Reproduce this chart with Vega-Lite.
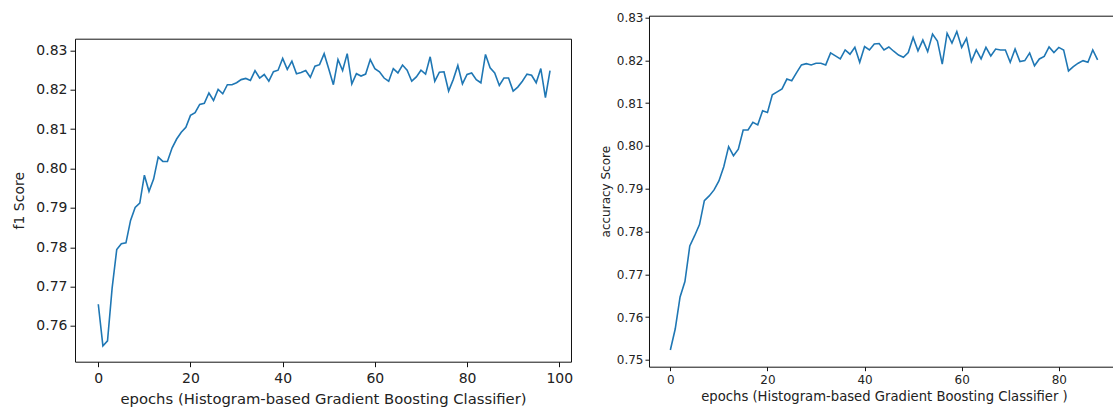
{
  "$schema": "https://vega.github.io/schema/vega-lite/v6.json",
  "padding": {"left": 12, "top": 10.7, "right": 0, "bottom": 0},
  "background": "white",
  "spacing": 24,
  "config": {
    "font": "DejaVu Sans",
    "view": {"stroke": "#111", "strokeWidth": 1},
    "axis": {"grid": false, "domain": false, "tickColor": "#111", "labelColor": "#222", "titleColor": "#222", "titleFontWeight": "normal"}
  },
  "datasets": {
    "f1": [
      {"epoch": 0, "score": 0.7655}, {"epoch": 1, "score": 0.7549}, {"epoch": 2, "score": 0.7562}, {"epoch": 3, "score": 0.7696},
      {"epoch": 4, "score": 0.7794}, {"epoch": 5, "score": 0.7809}, {"epoch": 6, "score": 0.7811}, {"epoch": 7, "score": 0.7868},
      {"epoch": 8, "score": 0.7901}, {"epoch": 9, "score": 0.7912}, {"epoch": 10, "score": 0.7983}, {"epoch": 11, "score": 0.7942},
      {"epoch": 12, "score": 0.7973}, {"epoch": 13, "score": 0.8029}, {"epoch": 14, "score": 0.8018}, {"epoch": 15, "score": 0.8018},
      {"epoch": 16, "score": 0.8052}, {"epoch": 17, "score": 0.8075}, {"epoch": 18, "score": 0.8092}, {"epoch": 19, "score": 0.8105},
      {"epoch": 20, "score": 0.8135}, {"epoch": 21, "score": 0.8142}, {"epoch": 22, "score": 0.8163}, {"epoch": 23, "score": 0.8166},
      {"epoch": 24, "score": 0.8192}, {"epoch": 25, "score": 0.8173}, {"epoch": 26, "score": 0.8201}, {"epoch": 27, "score": 0.819},
      {"epoch": 28, "score": 0.8213}, {"epoch": 29, "score": 0.8213}, {"epoch": 30, "score": 0.8218}, {"epoch": 31, "score": 0.8226},
      {"epoch": 32, "score": 0.8229}, {"epoch": 33, "score": 0.8224}, {"epoch": 34, "score": 0.8249}, {"epoch": 35, "score": 0.823},
      {"epoch": 36, "score": 0.8239}, {"epoch": 37, "score": 0.8222}, {"epoch": 38, "score": 0.8246}, {"epoch": 39, "score": 0.825},
      {"epoch": 40, "score": 0.828}, {"epoch": 41, "score": 0.8252}, {"epoch": 42, "score": 0.8273}, {"epoch": 43, "score": 0.8241},
      {"epoch": 44, "score": 0.8244}, {"epoch": 45, "score": 0.8249}, {"epoch": 46, "score": 0.8232}, {"epoch": 47, "score": 0.826},
      {"epoch": 48, "score": 0.8264}, {"epoch": 49, "score": 0.8292}, {"epoch": 50, "score": 0.8253}, {"epoch": 51, "score": 0.8213},
      {"epoch": 52, "score": 0.8277}, {"epoch": 53, "score": 0.8249}, {"epoch": 54, "score": 0.8292}, {"epoch": 55, "score": 0.8215},
      {"epoch": 56, "score": 0.8241}, {"epoch": 57, "score": 0.8235}, {"epoch": 58, "score": 0.824}, {"epoch": 59, "score": 0.8277},
      {"epoch": 60, "score": 0.8254}, {"epoch": 61, "score": 0.8246}, {"epoch": 62, "score": 0.823}, {"epoch": 63, "score": 0.8222},
      {"epoch": 64, "score": 0.8254}, {"epoch": 65, "score": 0.8243}, {"epoch": 66, "score": 0.8263}, {"epoch": 67, "score": 0.825},
      {"epoch": 68, "score": 0.8222}, {"epoch": 69, "score": 0.8233}, {"epoch": 70, "score": 0.825}, {"epoch": 71, "score": 0.824},
      {"epoch": 72, "score": 0.8284}, {"epoch": 73, "score": 0.8222}, {"epoch": 74, "score": 0.8245}, {"epoch": 75, "score": 0.8246},
      {"epoch": 76, "score": 0.8197}, {"epoch": 77, "score": 0.8226}, {"epoch": 78, "score": 0.8262}, {"epoch": 79, "score": 0.8215},
      {"epoch": 80, "score": 0.8239}, {"epoch": 81, "score": 0.8243}, {"epoch": 82, "score": 0.8226}, {"epoch": 83, "score": 0.8218},
      {"epoch": 84, "score": 0.829}, {"epoch": 85, "score": 0.8256}, {"epoch": 86, "score": 0.8243}, {"epoch": 87, "score": 0.8211},
      {"epoch": 88, "score": 0.823}, {"epoch": 89, "score": 0.823}, {"epoch": 90, "score": 0.8197}, {"epoch": 91, "score": 0.8207},
      {"epoch": 92, "score": 0.8222}, {"epoch": 93, "score": 0.824}, {"epoch": 94, "score": 0.8237}, {"epoch": 95, "score": 0.8218},
      {"epoch": 96, "score": 0.8254}, {"epoch": 97, "score": 0.818}, {"epoch": 98, "score": 0.8249}
    ],
    "acc": [
      {"epoch": 0, "score": 0.7523}, {"epoch": 1, "score": 0.7572}, {"epoch": 2, "score": 0.7647}, {"epoch": 3, "score": 0.7683},
      {"epoch": 4, "score": 0.7766}, {"epoch": 5, "score": 0.779}, {"epoch": 6, "score": 0.7816}, {"epoch": 7, "score": 0.7872},
      {"epoch": 8, "score": 0.7883}, {"epoch": 9, "score": 0.7897}, {"epoch": 10, "score": 0.7918}, {"epoch": 11, "score": 0.7951},
      {"epoch": 12, "score": 0.7998}, {"epoch": 13, "score": 0.7977}, {"epoch": 14, "score": 0.7992}, {"epoch": 15, "score": 0.8037},
      {"epoch": 16, "score": 0.8037}, {"epoch": 17, "score": 0.8055}, {"epoch": 18, "score": 0.8049}, {"epoch": 19, "score": 0.8082},
      {"epoch": 20, "score": 0.8078}, {"epoch": 21, "score": 0.8119}, {"epoch": 22, "score": 0.8126}, {"epoch": 23, "score": 0.8133},
      {"epoch": 24, "score": 0.8156}, {"epoch": 25, "score": 0.8152}, {"epoch": 26, "score": 0.8171}, {"epoch": 27, "score": 0.8189},
      {"epoch": 28, "score": 0.8192}, {"epoch": 29, "score": 0.8189}, {"epoch": 30, "score": 0.8193}, {"epoch": 31, "score": 0.8193},
      {"epoch": 32, "score": 0.8189}, {"epoch": 33, "score": 0.8217}, {"epoch": 34, "score": 0.821}, {"epoch": 35, "score": 0.8203},
      {"epoch": 36, "score": 0.8224}, {"epoch": 37, "score": 0.8214}, {"epoch": 38, "score": 0.823}, {"epoch": 39, "score": 0.8195},
      {"epoch": 40, "score": 0.8232}, {"epoch": 41, "score": 0.8224}, {"epoch": 42, "score": 0.8238}, {"epoch": 43, "score": 0.8239},
      {"epoch": 44, "score": 0.8224}, {"epoch": 45, "score": 0.8231}, {"epoch": 46, "score": 0.8221}, {"epoch": 47, "score": 0.8212},
      {"epoch": 48, "score": 0.8207}, {"epoch": 49, "score": 0.8218}, {"epoch": 50, "score": 0.8253}, {"epoch": 51, "score": 0.8222},
      {"epoch": 52, "score": 0.8247}, {"epoch": 53, "score": 0.822}, {"epoch": 54, "score": 0.8261}, {"epoch": 55, "score": 0.8245},
      {"epoch": 56, "score": 0.8191}, {"epoch": 57, "score": 0.8263}, {"epoch": 58, "score": 0.824}, {"epoch": 59, "score": 0.8267},
      {"epoch": 60, "score": 0.823}, {"epoch": 61, "score": 0.8251}, {"epoch": 62, "score": 0.8197}, {"epoch": 63, "score": 0.8224},
      {"epoch": 64, "score": 0.8203}, {"epoch": 65, "score": 0.823}, {"epoch": 66, "score": 0.821}, {"epoch": 67, "score": 0.8226},
      {"epoch": 68, "score": 0.8224}, {"epoch": 69, "score": 0.8224}, {"epoch": 70, "score": 0.8195}, {"epoch": 71, "score": 0.8226},
      {"epoch": 72, "score": 0.8197}, {"epoch": 73, "score": 0.8199}, {"epoch": 74, "score": 0.8217}, {"epoch": 75, "score": 0.8187},
      {"epoch": 76, "score": 0.8203}, {"epoch": 77, "score": 0.8209}, {"epoch": 78, "score": 0.8231}, {"epoch": 79, "score": 0.8218},
      {"epoch": 80, "score": 0.823}, {"epoch": 81, "score": 0.8224}, {"epoch": 82, "score": 0.8175}, {"epoch": 83, "score": 0.8185},
      {"epoch": 84, "score": 0.8193}, {"epoch": 85, "score": 0.8199}, {"epoch": 86, "score": 0.8195}, {"epoch": 87, "score": 0.8224},
      {"epoch": 88, "score": 0.8201}
    ]
  },
  "hconcat": [
    {
      "spacing": 20,
      "vconcat": [
        {
          "width": 496,
          "height": 2,
          "view": {"stroke": null},
          "data": {"values": []},
          "mark": {"type": "rule"},
          "encoding": {}
        },
        {
          "width": 496,
          "height": 323,
          "data": {"name": "f1"},
          "mark": {"type": "line", "color": "#1f77b4", "strokeWidth": 1.6, "clip": true},
          "encoding": {
            "x": {"field": "epoch", "type": "quantitative",
              "scale": {"domain": [-5.05, 102.55], "nice": false, "zero": false},
              "axis": {"values": [0, 20, 40, 60, 80, 100], "title": "epochs (Histogram-based Gradient Boosting Classifier)",
                "labelFontSize": 14, "titleFontSize": 14.8, "tickSize": 5, "labelPadding": 5, "titlePadding": 6, "labelFlush": false}},
            "y": {"field": "score", "type": "quantitative",
              "scale": {"domain": [0.7509, 0.833], "nice": false, "zero": false},
              "axis": {"values": [0.76, 0.77, 0.78, 0.79, 0.8, 0.81, 0.82, 0.83], "format": ".2f", "title": "f1 Score",
                "labelFontSize": 14, "titleFontSize": 14, "tickSize": 5, "labelPadding": 3, "titlePadding": 9, "labelFlush": false}}
          }
        }
      ]
    },
    {
      "width": 470,
      "height": 351,
      "data": {"name": "acc"},
      "mark": {"type": "line", "color": "#1f77b4", "strokeWidth": 1.6, "clip": true},
      "encoding": {
        "x": {"field": "epoch", "type": "quantitative",
          "scale": {"domain": [-4.4, 92.4], "nice": false, "zero": false},
          "axis": {"values": [0, 20, 40, 60, 80], "title": "epochs (Histogram-based Gradient Boosting Classifier )",
            "labelFontSize": 12, "titleFontSize": 13.2, "tickSize": 4, "labelPadding": 4, "titlePadding": 5, "labelFlush": false}},
        "y": {"field": "score", "type": "quantitative",
          "scale": {"domain": [0.7484, 0.8304], "nice": false, "zero": false},
          "axis": {"values": [0.75, 0.76, 0.77, 0.78, 0.79, 0.8, 0.81, 0.82, 0.83], "format": ".2f", "title": "accuracy Score",
            "labelFontSize": 12, "titleFontSize": 12, "tickSize": 4, "labelPadding": 2, "titlePadding": 4, "labelFlush": false}}
      }
    }
  ]
}
